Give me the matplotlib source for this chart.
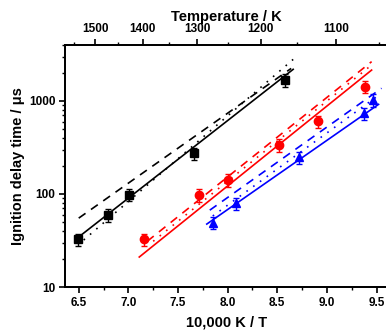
import numpy as np
import matplotlib.pyplot as plt

plt.rcParams.update({"font.family": ["Liberation Sans", "DejaVu Sans"], "font.weight": "bold",
                     "axes.linewidth": 1.3})

# measured points (10000/T, tau in us)
x_blk = [6.49, 6.80, 7.01, 7.66, 8.58]
y_blk = [32.6, 59.4, 98, 274, 1680]
x_red = [7.16, 7.71, 8.00, 8.52, 8.91, 9.38]
y_red = [32.6, 97.5, 141, 336, 605, 1425]
x_blu = [7.85, 8.08, 8.72, 9.37, 9.46]
y_blu = [49, 79.4, 248, 738, 1026]
err_frac = 0.15

# model / fit lines (end points)
blk_solid = ([6.50, 8.66], [34.5, 2190])
blk_dash = ([6.50, 8.64], [55, 2240])
blk_dot = ([6.55, 8.66], [32, 2800])
red_solid = ([7.11, 9.45], [21, 2150])
red_dash = ([7.19, 9.45], [31, 2650])
red_dot = ([7.25, 9.45], [31, 2440])
blu_solid = ([7.79, 9.52], [47.5, 920])
blu_dash = ([7.82, 9.55], [67, 1370])
blu_dot = ([7.85, 9.52], [58, 1150])

temp_major = [1500, 1400, 1300, 1200, 1100]
temp_minor = [1550, 1450, 1350, 1250, 1150, 1050]

fig = plt.figure(figsize=(3.86, 3.32), dpi=100)
ax = fig.add_axes([65/386, 45/332, 323/386, 242/332])

for (lines, col) in [((blk_solid, blk_dash, blk_dot), "black"),
                     ((red_solid, red_dash, red_dot), "red"),
                     ((blu_solid, blu_dash, blu_dot), "blue")]:
    for ln, ls in zip(lines, ["-", (0, (5, 4)), (0, (1, 4))]):
        ax.plot(ln[0], ln[1], color=col, lw=1.2, linestyle=ls)

for xs, ys, col, mk in [(x_blk, y_blk, "black", "s"), (x_red, y_red, "red", "o"), (x_blu, y_blu, "blue", "^")]:
    ys = np.array(ys)
    ax.errorbar(xs, ys, yerr=ys * err_frac, fmt=mk, color=col, ms=6, capsize=2.5,
                elinewidth=1.0, capthick=1.0)

ax.set_yscale("log")
ax.set_xlim(6.362, 9.615)
ax.set_ylim(10, 4000)
ax.set_xticks([6.5, 7.0, 7.5, 8.0, 8.5, 9.0, 9.5])
ax.set_xticks(np.arange(6.75, 9.6, 0.5), minor=True)
ax.set_yticks([10, 100, 1000])
ax.set_yticklabels(["10", "100", "1000"])
ax.tick_params(which="major", length=4.5, width=1.2, labelsize=8.5, direction="out", pad=2.5)
ax.tick_params(which="minor", length=2.5, width=1.0, direction="out")
ax.spines["right"].set_visible(False)
ax.set_xlabel("10,000 K / T", fontsize=10.5, fontweight="bold", labelpad=5)
ax.set_ylabel("Ignition delay time / \u03bcs", fontsize=10.5, fontweight="bold", labelpad=3)

ax2 = ax.twiny()
ax2.set_xlim(ax.get_xlim())
ax2.set_xticks([10000 / t for t in temp_major])
ax2.set_xticklabels([str(t) for t in temp_major])
ax2.set_xticks([10000 / t for t in temp_minor], minor=True)
ax2.tick_params(which="major", length=4.5, width=1.2, labelsize=8.5, direction="out", pad=2.5)
ax2.tick_params(which="minor", length=2.5, width=1.0, direction="out")
ax2.spines["right"].set_visible(False)
ax2.set_xlabel("Temperature / K", fontsize=10.5, fontweight="bold", labelpad=1.5)

fig.savefig("out.png", dpi=100, facecolor="white")
